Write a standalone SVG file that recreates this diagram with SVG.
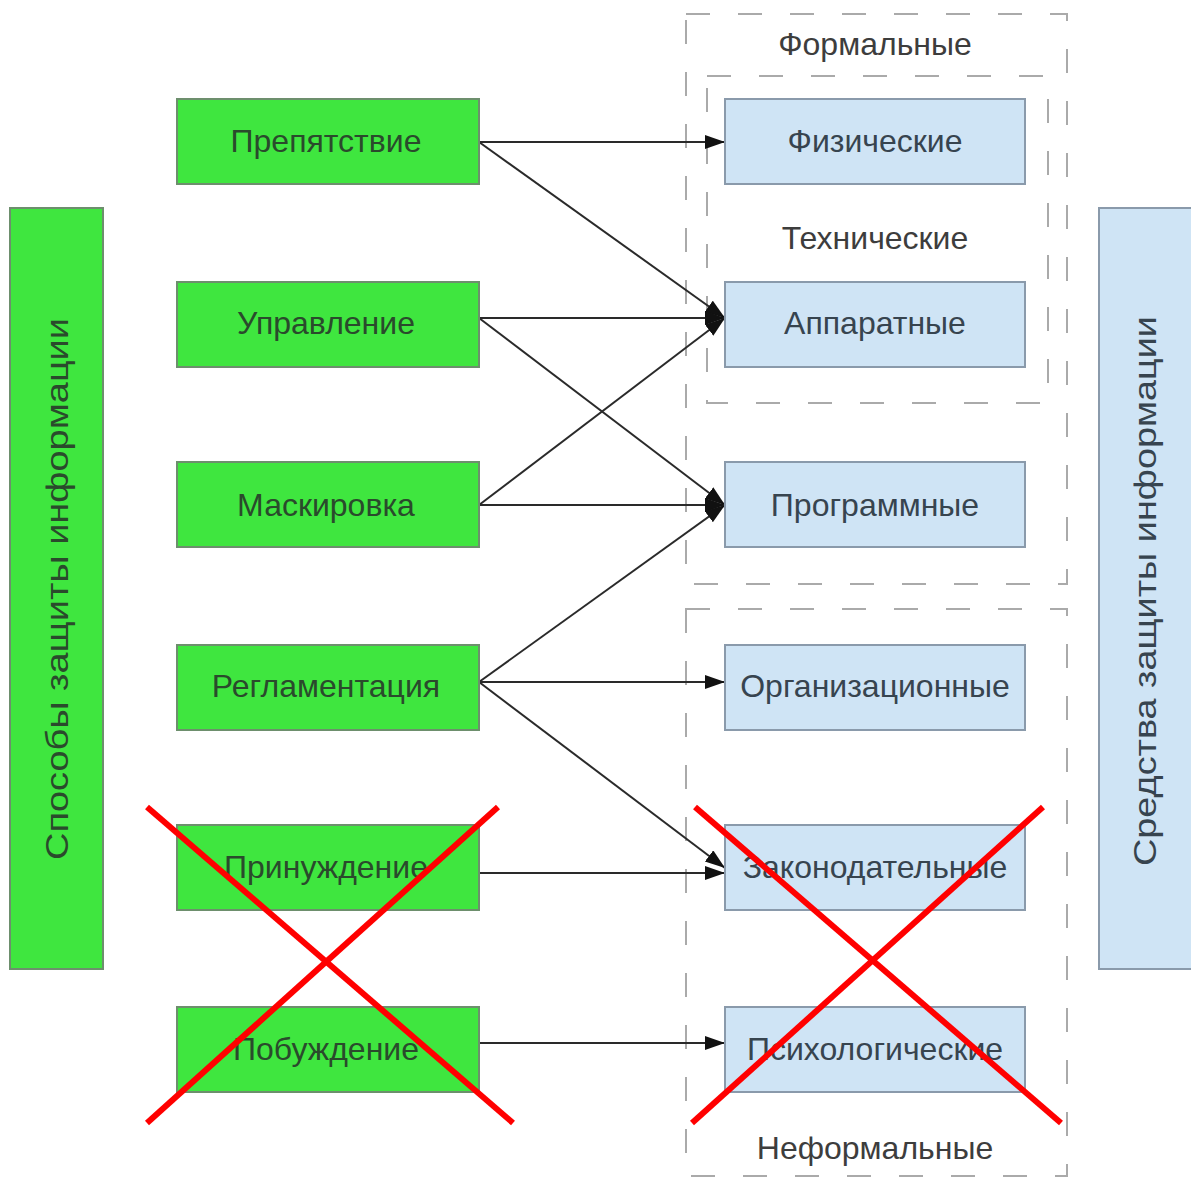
<svg xmlns="http://www.w3.org/2000/svg" width="1191" height="1182" viewBox="0 0 1191 1182">
<defs>
<style>
.g{fill:#3fe63f;stroke:#6d8f6d;stroke-width:2}
.b{fill:#cfe4f5;stroke:#8a9aab;stroke-width:2}
.gt{font-family:"Liberation Sans",Arial,sans-serif;font-size:32px;fill:#2a4a2c;text-anchor:middle;dominant-baseline:central}
.bt{font-family:"Liberation Sans",Arial,sans-serif;font-size:32px;fill:#37444f;text-anchor:middle;dominant-baseline:central}
.lt{font-family:"Liberation Sans",Arial,sans-serif;font-size:32px;fill:#3d3d3d;text-anchor:middle;dominant-baseline:central}
.d{fill:none;stroke:#aaaaaa;stroke-width:2;stroke-dasharray:24 28}
.c{stroke:#2a2a2a;stroke-width:2;fill:none;marker-end:url(#ah)}
.x{stroke:#ff0000;stroke-width:6;fill:none}
</style>
<marker id="ah" markerUnits="userSpaceOnUse" markerWidth="22" markerHeight="16" refX="20" refY="7" orient="auto">
<path d="M0,0 L20,7 L0,14 z" fill="#111"/>
</marker>
</defs>
<rect width="1191" height="1182" fill="#ffffff"/>

<g id="groups">
<rect class="d" x="686" y="14" width="381" height="570"/>
<text class="lt" x="875" y="44">Формальные</text>
<rect class="d" x="707" y="76" width="341" height="327"/>
<text class="lt" x="875" y="238">Технические</text>
<rect class="d" x="686" y="609" width="381" height="567"/>
<text class="lt" x="875" y="1148">Неформальные</text>
</g>

<g id="left-title">
<rect class="g" x="10" y="208" width="93" height="761"/>
<text class="gt" transform="translate(57,589) rotate(-90)" textLength="542" lengthAdjust="spacingAndGlyphs">Способы защиты информации</text>
</g>
<g id="right-title">
<rect class="b" x="1099" y="208" width="100" height="761"/>
<text class="bt" transform="translate(1145,591) rotate(-90)" textLength="550" lengthAdjust="spacingAndGlyphs">Средства защиты информации</text>
</g>

<g id="connectors">
<line class="c" x1="479" y1="142" x2="725" y2="142"/>
<line class="c" x1="479" y1="142" x2="725" y2="318"/>
<line class="c" x1="479" y1="318" x2="725" y2="318"/>
<line class="c" x1="479" y1="318" x2="725" y2="505"/>
<line class="c" x1="479" y1="505" x2="725" y2="318"/>
<line class="c" x1="479" y1="505" x2="725" y2="505"/>
<line class="c" x1="479" y1="682" x2="725" y2="505"/>
<line class="c" x1="479" y1="682" x2="725" y2="682"/>
<line class="c" x1="479" y1="682" x2="725" y2="868"/>
<line class="c" x1="479" y1="873" x2="725" y2="873"/>
<line class="c" x1="479" y1="1043" x2="725" y2="1043"/>
</g>

<g id="n-prep"><rect class="g" x="177" y="99" width="302" height="85"/><text class="gt" x="326" y="141">Препятствие</text></g>
<g id="n-upr"><rect class="g" x="177" y="282" width="302" height="85"/><text class="gt" x="326" y="323">Управление</text></g>
<g id="n-mask"><rect class="g" x="177" y="462" width="302" height="85"/><text class="gt" x="326" y="505">Маскировка</text></g>
<g id="n-regl"><rect class="g" x="177" y="645" width="302" height="85"/><text class="gt" x="326" y="686">Регламентация</text></g>
<g id="n-prin"><rect class="g" x="177" y="825" width="302" height="85"/><text class="gt" x="326" y="867">Принуждение</text></g>
<g id="n-pob"><rect class="g" x="177" y="1007" width="302" height="85"/><text class="gt" x="326" y="1049">Побуждение</text></g>

<g id="n-fiz"><rect class="b" x="725" y="99" width="300" height="85"/><text class="bt" x="875" y="141">Физические</text></g>
<g id="n-app"><rect class="b" x="725" y="282" width="300" height="85"/><text class="bt" x="875" y="323">Аппаратные</text></g>
<g id="n-prog"><rect class="b" x="725" y="462" width="300" height="85"/><text class="bt" x="875" y="505">Программные</text></g>
<g id="n-org"><rect class="b" x="725" y="645" width="300" height="85"/><text class="bt" x="875" y="686">Организационные</text></g>
<g id="n-zak"><rect class="b" x="725" y="825" width="300" height="85"/><text class="bt" x="875" y="867">Законодательные</text></g>
<g id="n-psy"><rect class="b" x="725" y="1007" width="300" height="85"/><text class="bt" x="875" y="1049">Психологические</text></g>

<g id="crosses">
<line class="x" x1="147" y1="807" x2="513" y2="1123"/>
<line class="x" x1="498" y1="807" x2="147" y2="1123"/>
<line class="x" x1="695" y1="807" x2="1061" y2="1123"/>
<line class="x" x1="1043" y1="807" x2="692" y2="1123"/>
</g>
</svg>
